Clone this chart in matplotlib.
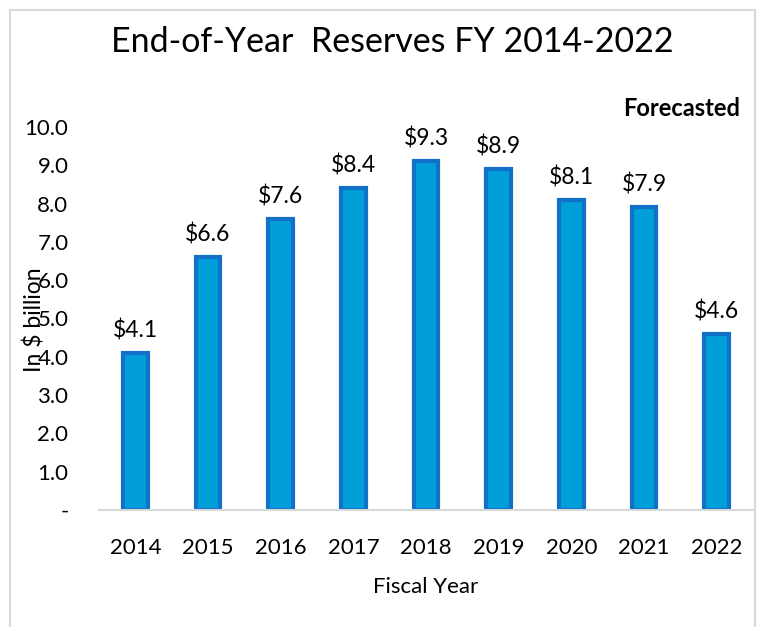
import numpy as np
from matplotlib import pyplot as plt
from matplotlib.patches import Rectangle

years = ['2014', '2015', '2016', '2017', '2018', '2019', '2020', '2021', '2022']
reserves = [4.1, 6.6, 7.6, 8.4, 9.1, 8.9, 8.1, 7.9, 4.6]   # bar heights as drawn
value_labels = ['$4.1', '$6.6', '$7.6', '$8.4', '$9.3', '$8.9', '$8.1', '$7.9', '$4.6']
yticks = [0, 1, 2, 3, 4, 5, 6, 7, 8, 9, 10]
ytick_labels = ['-'] + [f'{v:.1f}' for v in yticks[1:]]

plt.rcParams['font.family'] = ['Lato', 'DejaVu Sans']

fig = plt.figure(figsize=(7.65, 6.27), dpi=100)
# outer chart border
fig.patches.append(Rectangle((10/765, -0.1), 745/765, 1.1 - 10/627, transform=fig.transFigure,
                             fill=False, edgecolor='#D9D9D9', linewidth=1.5))

ax = fig.add_axes([99/765, 117/627, 654/765, 383/627])
x = np.arange(len(years))
bars = ax.bar(x, reserves, width=0.34, color='#019FDA', edgecolor='#1170C8', linewidth=3)

for xi, v, lab in zip(x, reserves, value_labels):
    ax.text(xi, v + 0.3, lab, ha='center', va='bottom', fontsize=16.5)

ax.set_xlim(-0.5, 8.5)
ax.set_ylim(0, 10)
ax.set_yticks(yticks)
ax.set_yticklabels(ytick_labels, fontsize=16)
ax.set_xticks(x)
ax.set_xticklabels(years, fontsize=16)
ax.tick_params(axis='y', length=0, pad=22)
ax.tick_params(axis='x', length=0, pad=20)
for s in ['top', 'right', 'left']:
    ax.spines[s].set_visible(False)
ax.spines['bottom'].set_color('#D9D9D9')
ax.spines['bottom'].set_linewidth(1.5)

ax.set_xlabel('Fiscal Year', fontsize=16, labelpad=14)
fig.text(35/765, 1 - 320/627, 'In $ billion', rotation=90, ha='center', va='center', fontsize=16.5)
fig.text(392/765, 1 - 42/627, 'End-of-Year  Reserves FY 2014-2022', ha='center', va='center', fontsize=24.5)
fig.text(740/765, 1 - 108/627, 'Forecasted', ha='right', va='center', fontsize=17, fontweight='bold')

plt.savefig('out.png', dpi=100)
